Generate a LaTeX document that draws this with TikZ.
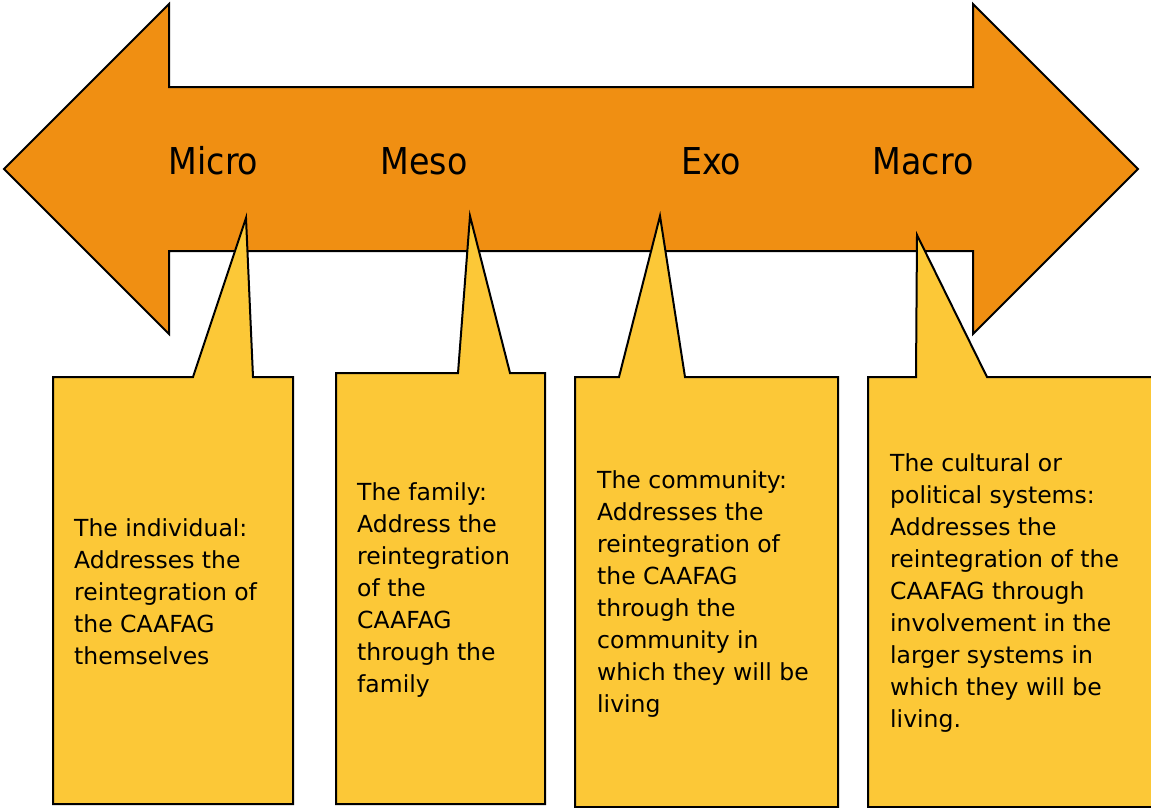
\documentclass[tikz,border=0pt]{standalone}
\usepackage{fontspec}
\setmainfont{DejaVu Sans}
\newfontfamily\condensedfont{DejaVu Sans Condensed}
\definecolor{arroworange}{RGB}{240,143,18}
\definecolor{calloutyellow}{RGB}{252,200,55}
\begin{document}
\begin{tikzpicture}[x=1pt,y=-1pt,
  bigarrow/.style={fill=arroworange,draw=black,line width=2pt,line join=miter},
  callout/.style={fill=calloutyellow,draw=black,line width=2pt,line join=miter},
  levellabel/.style={font=\condensedfont\fontsize{37}{44}\selectfont,anchor=base,inner sep=0pt},
  bodytext/.style={font=\fontsize{23.5}{32}\selectfont,align=left,anchor=west,inner sep=0pt}]
\useasboundingbox (0,0) rectangle (1151,808);
\clip (0,0) rectangle (1151,808);
% double-headed arrow
\draw[bigarrow] (4,169) -- (169,4) -- (169,87) -- (973,87) -- (973,4) -- (1138,169)
  -- (973,334) -- (973,251) -- (169,251) -- (169,334) -- cycle;
% level labels
\node[levellabel] (micro) at (213.5,174) {Micro};
\node[levellabel] (meso) at (424,174) {Meso};
\node[levellabel] (exo) at (711,174) {Exo};
\node[levellabel] (macro) at (923,174) {Macro};
% callouts
\draw[callout] (53,377) -- (193,377) -- (246,218) -- (253,377) -- (293,377) -- (293,804) -- (53,804) -- cycle;
\draw[callout] (336,373) -- (458,373) -- (470,216) -- (510,373) -- (545,373) -- (545,804) -- (336,804) -- cycle;
\draw[callout] (575,377) -- (619,377) -- (660,216) -- (685,377) -- (838,377) -- (838,807) -- (575,807) -- cycle;
\draw[callout] (868,377) -- (916,377) -- (917,235) -- (987,377) -- (1165,377) -- (1165,807) -- (868,807) -- cycle;
% callout texts
\node[bodytext] (tmicro) at (74,592) {The individual:\\Addresses the\\reintegration of\\the CAAFAG\\themselves};
\node[bodytext] (tmeso) at (357,590.5) {The family:\\Address the\\reintegration\\of the\\CAAFAG\\through the\\family};
\node[bodytext] (texo) at (597,594) {The community:\\Addresses the\\reintegration of\\the CAAFAG\\through the\\community in\\which they will be\\living};
\node[bodytext] (tmacro) at (890,593.5) {The cultural or\\political systems:\\Addresses the\\reintegration of the\\CAAFAG through\\involvement in the\\larger systems in\\which they will be\\living.};
\end{tikzpicture}
\end{document}
